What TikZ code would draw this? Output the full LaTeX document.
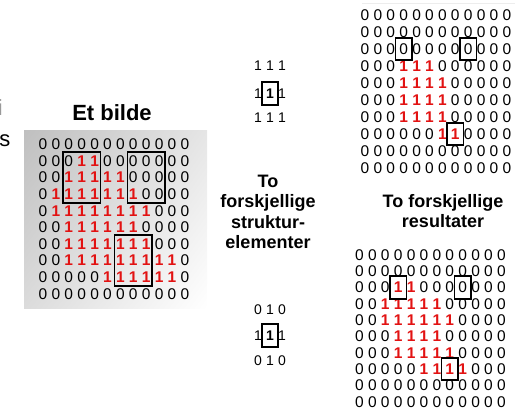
\documentclass[tikz,border=0pt]{standalone}
\usepackage{fontspec}
\setmainfont{Liberation Sans}
\usetikzlibrary{positioning,shadings}
\definecolor{onered}{RGB}{226,18,18}

\begin{document}
\begin{tikzpicture}[x=1pt,y=-1pt,on grid,
    bit/.style={inner sep=0pt,font=\fontsize{15.5}{16}\selectfont},
    bit0/.style={bit},
    bit1/.style={bit,text=onered,font=\fontsize{15.5}{16}\selectfont\bfseries},
    se/.style={inner sep=0pt,font=\fontsize{14}{15}\selectfont},
    semid/.style={se,font=\fontsize{14}{15}\selectfont\bfseries},
    title/.style={inner sep=0pt,font=\fontsize{18}{20.5}\selectfont\bfseries,align=center},
    frame/.style={draw,line width=1.8pt,inner sep=0pt},
    cell/.style={frame,minimum width=16.5pt,minimum height=22.5pt},
    win/.style={frame,minimum width=37.5pt,minimum height=51pt}]
  \useasboundingbox (0,0) rectangle (524,411);

  \path node[inner sep=0pt,anchor=base east,text=black!40,font=\fontsize{22}{24}\selectfont] (cut-i) at (3,116) {i}
  node[inner sep=0pt,anchor=base east,font=\fontsize{22}{24}\selectfont] (cut-s) at (10.5,147) {s};
  \draw[black!7] (362,3) -- (515,3);

  % the image
  \shade[upper left=black!25,upper right=black!10,lower left=black!14,lower right=white]
    (24,131) rectangle (207,308);
  \foreach \row [count=\r from 0] in {
      {0,0,0,0,0,0,0,0,0,0,0,0},
      {0,0,0,1,1,0,0,0,0,0,0,0},
      {0,0,1,1,1,1,1,0,0,0,0,0},
      {0,1,1,1,1,1,1,1,0,0,0,0},
      {0,1,1,1,1,1,1,1,1,0,0,0},
      {0,0,1,1,1,1,1,1,0,0,0,0},
      {0,0,1,1,1,1,1,1,1,0,0,0},
      {0,0,1,1,1,1,1,1,1,1,1,0},
      {0,0,0,0,0,1,1,1,1,1,1,0},
      {0,0,0,0,0,0,0,0,0,0,0,0}}
    \foreach \v [count=\c from 0] in \row
      \node[bit\v] (img-\r-\c) at (43+12.9*\c,144.3+16.6*\r) {\v};
  \node[win] (win-a) at (img-2-3) {};
  \node[win] (win-b) at (img-2-8) {};
  \node[win] (win-c) at (img-7-7) {};

  % eroded with the square
  \foreach \row [count=\r from 0] in {
      {0,0,0,0,0,0,0,0,0,0,0,0},
      {0,0,0,0,0,0,0,0,0,0,0,0},
      {0,0,0,0,0,0,0,0,0,0,0,0},
      {0,0,0,1,1,1,0,0,0,0,0,0},
      {0,0,0,1,1,1,1,0,0,0,0,0},
      {0,0,0,1,1,1,1,0,0,0,0,0},
      {0,0,0,1,1,1,1,0,0,0,0,0},
      {0,0,0,0,0,0,1,1,0,0,0,0},
      {0,0,0,0,0,0,0,0,0,0,0,0},
      {0,0,0,0,0,0,0,0,0,0,0,0}}
    \foreach \v [count=\c from 0] in \row
      \node[bit\v] (sq-\r-\c) at (365+12.9*\c,15+17*\r) {\v};
  \node[cell] (sq-a) at (sq-2-3) {};
  \node[cell] (sq-b) at (sq-2-8) {};
  \node[cell] (sq-c) at (sq-7-7) {};

  % eroded with the cross
  \foreach \row [count=\r from 0] in {
      {0,0,0,0,0,0,0,0,0,0,0,0},
      {0,0,0,0,0,0,0,0,0,0,0,0},
      {0,0,0,1,1,0,0,0,0,0,0,0},
      {0,0,1,1,1,1,1,0,0,0,0,0},
      {0,0,1,1,1,1,1,1,0,0,0,0},
      {0,0,0,1,1,1,1,0,0,0,0,0},
      {0,0,0,1,1,1,1,1,0,0,0,0},
      {0,0,0,0,0,1,1,1,1,0,0,0},
      {0,0,0,0,0,0,0,0,0,0,0,0},
      {0,0,0,0,0,0,0,0,0,0,0,0}}
    \foreach \v [count=\c from 0] in \row
      \node[bit\v] (cr-\r-\c) at (359.5+12.9*\c,255+16.3*\r) {\v};
  \node[cell] (cr-a) at (cr-2-3) {};
  \node[cell] (cr-b) at (cr-2-8) {};
  \node[cell] (cr-c) at (cr-7-7) {};

  % structuring elements
  \path
  node[semid] (sqe-c) at (270,93.5) {1}
  node[se] (sqe-w) [left=12pt of sqe-c] {1}
  node[se] (sqe-e) [right=12pt of sqe-c] {1}
  node[se] (sqe-n) [above=27.5pt of sqe-c] {1}
  node[se] (sqe-nw) [left=12pt of sqe-n] {1}
  node[se] (sqe-ne) [right=12pt of sqe-n] {1}
  node[se] (sqe-s) [below=24.5pt of sqe-c] {1}
  node[se] (sqe-sw) [left=12pt of sqe-s] {1}
  node[se] (sqe-se) [right=12pt of sqe-s] {1}
  node[cell] (sqe-box) at (sqe-c) {}
  ;
  \path
  node[semid] (cre-c) at (270,335.5) {1}
  node[se] (cre-w) [left=12pt of cre-c] {1}
  node[se] (cre-e) [right=12pt of cre-c] {1}
  node[se] (cre-n) [above=26pt of cre-c] {1}
  node[se] (cre-nw) [left=12pt of cre-n] {0}
  node[se] (cre-ne) [right=12pt of cre-n] {0}
  node[se] (cre-s) [below=25pt of cre-c] {1}
  node[se] (cre-sw) [left=12pt of cre-s] {0}
  node[se] (cre-se) [right=12pt of cre-s] {0}
  node[cell] (cre-box) at (cre-c) {}
  ;

  \path
  node[title,font=\fontsize{22}{24}\selectfont\bfseries] (img-title) at (112,112.5) {Et bilde}
  node[title] (se-title) at (268,211.7) {To\\forskjellige\\struktur-\\elementer}
  node[title] (res-title) at (443,211) {To forskjellige\\resultater}
  ;
\end{tikzpicture}
\end{document}
